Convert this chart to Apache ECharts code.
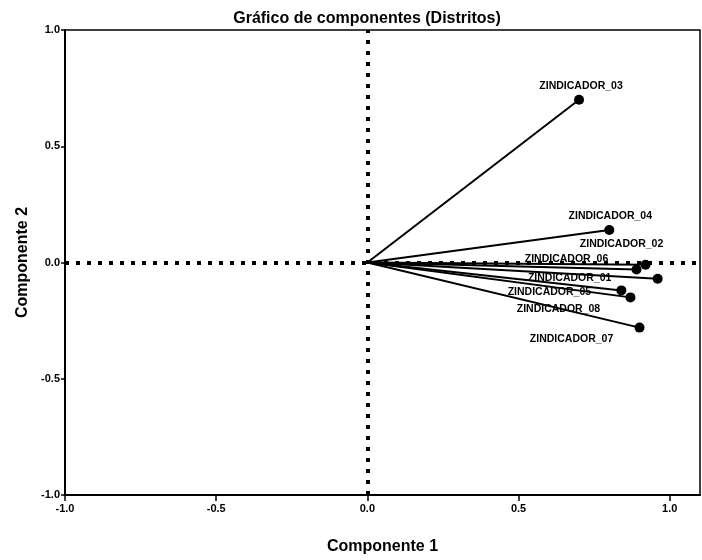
<!DOCTYPE html>
<html>
<head>
<meta charset="utf-8">
<script src="https://cdn.jsdelivr.net/npm/echarts@6/dist/echarts.min.js"></script>
<style>
  html, body { margin: 0; padding: 0; background: #fff; }
  #main { width: 702px; height: 560px; }
</style>
</head>
<body>
<div id="main"></div>
<script>
// cargas de los indicadores en las dos componentes
const indicators = ['ZINDICADOR_01', 'ZINDICADOR_02', 'ZINDICADOR_03', 'ZINDICADOR_04',
                    'ZINDICADOR_05', 'ZINDICADOR_06', 'ZINDICADOR_07', 'ZINDICADOR_08'];
const comp1 = [0.96, 0.92, 0.70, 0.80, 0.84, 0.89, 0.90, 0.87];
const comp2 = [-0.07, -0.01, 0.70, 0.14, -0.12, -0.03, -0.28, -0.15];
const ticks = [-1.0, -0.5, 0.0, 0.5, 1.0];

// donde va cada etiqueta respecto a su punto (px)
const labelOffset = {
    'ZINDICADOR_01': [-88, -1],
    'ZINDICADOR_02': [-24, -21],
    'ZINDICADOR_03': [2, -14],
    'ZINDICADOR_04': [1, -14],
    'ZINDICADOR_05': [-72, 2],
    'ZINDICADOR_06': [-70, -10],
    'ZINDICADOR_07': [-68, 12],
    'ZINDICADOR_08': [-72, 12]
};

const font = 'Liberation Sans, Arial, sans-serif';
const chart = echarts.init(document.getElementById('main'));

const vectors = indicators.map((name, i) => ({
    name: name,
    type: 'line',
    silent: true,
    animation: false,
    z: 3,
    lineStyle: {color: '#000', width: 2},
    itemStyle: {color: '#000'},
    symbol: 'circle',
    data: [
        {value: [0, 0], symbolSize: 0, label: {show: false}},
        {
            value: [comp1[i], comp2[i]],
            symbolSize: 10,
            label: {
                show: true,
                position: 'inside',
                offset: labelOffset[name],
                formatter: name,
                color: '#000',
                fontFamily: font,
                fontWeight: 'bold',
                fontSize: 10.5
            }
        }
    ]
}));

// lineas punteadas de referencia en cero
const refLines = {
    type: 'line',
    data: [],
    silent: true,
    animation: false,
    z: 1,
    markLine: {
        symbol: 'none',
        silent: true,
        animation: false,
        label: {show: false},
        lineStyle: {color: '#000', width: 4, type: [4, 7], cap: 'butt'},
        data: [{xAxis: 0}, {yAxis: 0}]
    }
};

chart.setOption({
    backgroundColor: '#fff',
    animation: false,
    title: {
        text: 'Gráfico de componentes (Distritos)',
        left: 362,
        textAlign: 'center',
        top: 6,
        textStyle: {fontFamily: font, fontWeight: 'bold', fontSize: 16, color: '#000'}
    },
    grid: {
        left: 65, right: 2, top: 30, bottom: 63,
        show: true, borderColor: '#000', borderWidth: 1.5
    },
    xAxis: {
        type: 'value',
        min: ticks[0], max: 1.1, interval: 0.5,
        name: 'Componente 1',
        nameLocation: 'middle',
        nameGap: 44,
        nameTextStyle: {fontFamily: font, fontWeight: 'bold', fontSize: 16, color: '#000'},
        splitLine: {show: false},
        axisLine: {show: true, onZero: false, lineStyle: {color: '#000', width: 2}},
        axisTick: {show: true, length: 6, lineStyle: {color: '#000', width: 1.5}},
        axisLabel: {
            showMaxLabel: false,
            margin: 8,
            color: '#000', fontFamily: font, fontWeight: 'bold', fontSize: 11,
            formatter: v => v.toFixed(1)
        }
    },
    yAxis: {
        type: 'value',
        min: ticks[0], max: ticks[ticks.length - 1], interval: 0.5,
        name: 'Componente 2',
        nameLocation: 'middle',
        nameGap: 34,
        nameRotate: 90,
        nameTextStyle: {fontFamily: font, fontWeight: 'bold', fontSize: 16, color: '#000'},
        splitLine: {show: false},
        axisLine: {show: true, onZero: false, lineStyle: {color: '#000', width: 2}},
        axisTick: {show: true, length: 4, lineStyle: {color: '#000', width: 1.5}},
        axisLabel: {
            margin: 5,
            color: '#000', fontFamily: font, fontWeight: 'bold', fontSize: 11,
            formatter: v => v.toFixed(1)
        }
    },
    series: [refLines].concat(vectors)
});
</script>
</body>
</html>
